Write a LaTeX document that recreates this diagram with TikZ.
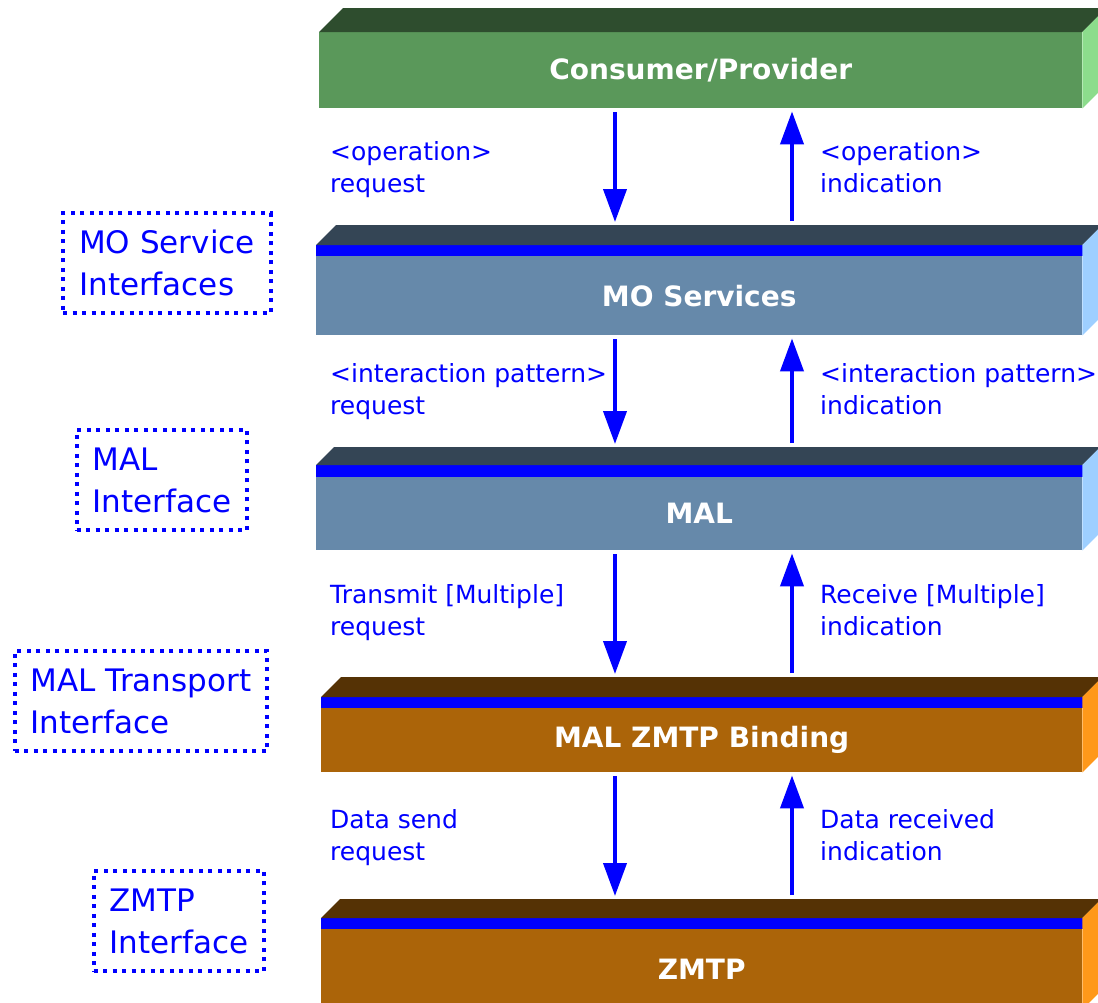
\documentclass[tikz,border=0pt]{standalone}
\usepackage{fontspec}
\setmainfont{DejaVu Sans}
\usepackage{tikz}
\usetikzlibrary{arrows.meta}
\definecolor{cpfront}{HTML}{5A985A}
\definecolor{cptop}{HTML}{2E4D2E}
\definecolor{cpside}{HTML}{8CDC8C}
\definecolor{mofront}{HTML}{6689AA}
\definecolor{motop}{HTML}{344555}
\definecolor{moside}{HTML}{9ECFFF}
\definecolor{tpfront}{HTML}{AB6409}
\definecolor{tptop}{HTML}{553205}
\definecolor{tpside}{HTML}{FF981A}
\colorlet{wire}{blue}
% top and side faces of a layer: #1 name, #2 depth, #3 top colour, #4 side colour
\def\slabfaces#1#2#3#4{%
	\coordinate (#1-bk) at ([shift={(#2,-#2)}]#1-tl);
	\fill[#3] (#1-tl) -- (#1-bk) -- ([shift={(#2,-#2)}]#1-tr) -- (#1-tr) -- cycle;
	\fill[#4] (#1-tr) -- ([shift={(#2,-#2)}]#1-tr) -- ([shift={(#2,-#2)}]#1.south east) -- (#1.south east) -- cycle;}
\tikzset{
	layer/.style={rectangle,anchor=north west,inner sep=0pt,text=white,font=\fontsize{28}{34}\selectfont\bfseries},
	stripe/.style={fill=blue},
	flow/.style={draw=wire,line width=4pt,shorten <=4pt,shorten >=3pt,-{Triangle[width=23pt,length=33pt]}},
	lbl/.style={anchor=base west,inner sep=0pt,align=left,text=wire,font=\fontsize{25}{32}\selectfont},
	iface/.style={draw=wire,line width=4pt,dash pattern=on 4pt off 5.5pt,inner xsep=16pt,inner ysep=0pt,
		minimum height=100pt,align=left,text=wire,font=\fontsize{31}{42}\selectfont},
	}

\begin{document}
\begin{tikzpicture}[x=1pt,y=-1pt]
\useasboundingbox (0,0) rectangle (1098,1002);
\clip (0,0) rectangle (1098,1002);
% LAYERS
\node[layer,fill=cpfront,minimum width=763pt,minimum height=76pt] (cp) at (319,32) {Consumer/Provider};
\coordinate (cp-tl) at (cp.north west);
\coordinate (cp-tr) at (cp.north east);
\slabfaces{cp}{24}{cptop}{cpside}

\node[layer,fill=mofront,minimum width=766pt,minimum height=79pt] (mo) at (316,256) {MO Services};
\coordinate (mo-tl) at ([yshift=11pt]mo.north west);
\coordinate (mo-tr) at ([yshift=11pt]mo.north east);
\fill[stripe] (mo-tl) rectangle ([xshift=3pt]mo.north east);
\slabfaces{mo}{20}{motop}{moside}

\node[layer,fill=mofront,minimum width=766pt,minimum height=73pt] (mal) at (316,477) {MAL};
\coordinate (mal-tl) at ([yshift=12pt]mal.north west);
\coordinate (mal-tr) at ([yshift=12pt]mal.north east);
\fill[stripe] (mal-tl) rectangle ([xshift=3pt]mal.north east);
\slabfaces{mal}{18}{motop}{moside}

\node[layer,fill=tpfront,minimum width=761pt,minimum height=64pt] (bind) at (321,708) {MAL ZMTP Binding};
\coordinate (bind-tl) at ([yshift=11pt]bind.north west);
\coordinate (bind-tr) at ([yshift=11pt]bind.north east);
\fill[stripe] (bind-tl) rectangle ([xshift=3pt]bind.north east);
\slabfaces{bind}{20}{tptop}{tpside}

\node[layer,fill=tpfront,minimum width=761pt,minimum height=80pt] (zmtp) at (321,929) {ZMTP};
\coordinate (zmtp-tl) at ([yshift=11pt]zmtp.north west);
\coordinate (zmtp-tr) at ([yshift=11pt]zmtp.north east);
\fill[stripe] (zmtp-tl) rectangle ([xshift=3pt]zmtp.north east);
\slabfaces{zmtp}{19}{tptop}{tpside}

% ARROWS
\coordinate (dn) at (615,0);
\coordinate (up) at (792,0);
\draw[flow] (cp.south -| dn) -- (mo-bk -| dn);
\draw[flow] (mo-bk -| up) -- (cp.south -| up);
\draw[flow] (mo.south -| dn) -- (mal-bk -| dn);
\draw[flow] (mal-bk -| up) -- (mo.south -| up);
\draw[flow] (mal.south -| dn) -- (bind-bk -| dn);
\draw[flow] (bind-bk -| up) -- (mal.south -| up);
\draw[flow] (bind.south -| dn) -- (zmtp-bk -| dn);
\draw[flow] (zmtp-bk -| up) -- (bind.south -| up);

% PRIMITIVES
\node[lbl] (oreq) at (330,192) {<operation>\\request};
\node[lbl] (oind) at (820,192) {<operation>\\indication};
\node[lbl] (ireq) at (330,414) {<interaction pattern>\\request};
\node[lbl] (iind) at (820,414) {<interaction pattern>\\indication};
\node[lbl] (treq) at (330,635) {Transmit [Multiple]\\request};
\node[lbl] (tind) at (820,635) {Receive [Multiple]\\indication};
\node[lbl] (dreq) at (330,860) {Data send\\request};
\node[lbl] (dind) at (820,860) {Data received\\indication};

% INTERFACES
\node[iface] (msi) at (167,263) {MO Service\\Interfaces};
\node[iface] (mali) at (162,480) {MAL\\Interface};
\node[iface] (mti) at (141,701) {MAL Transport\\Interface};
\node[iface] (zi) at (179,921) {ZMTP\\Interface};
\end{tikzpicture}
\end{document}
